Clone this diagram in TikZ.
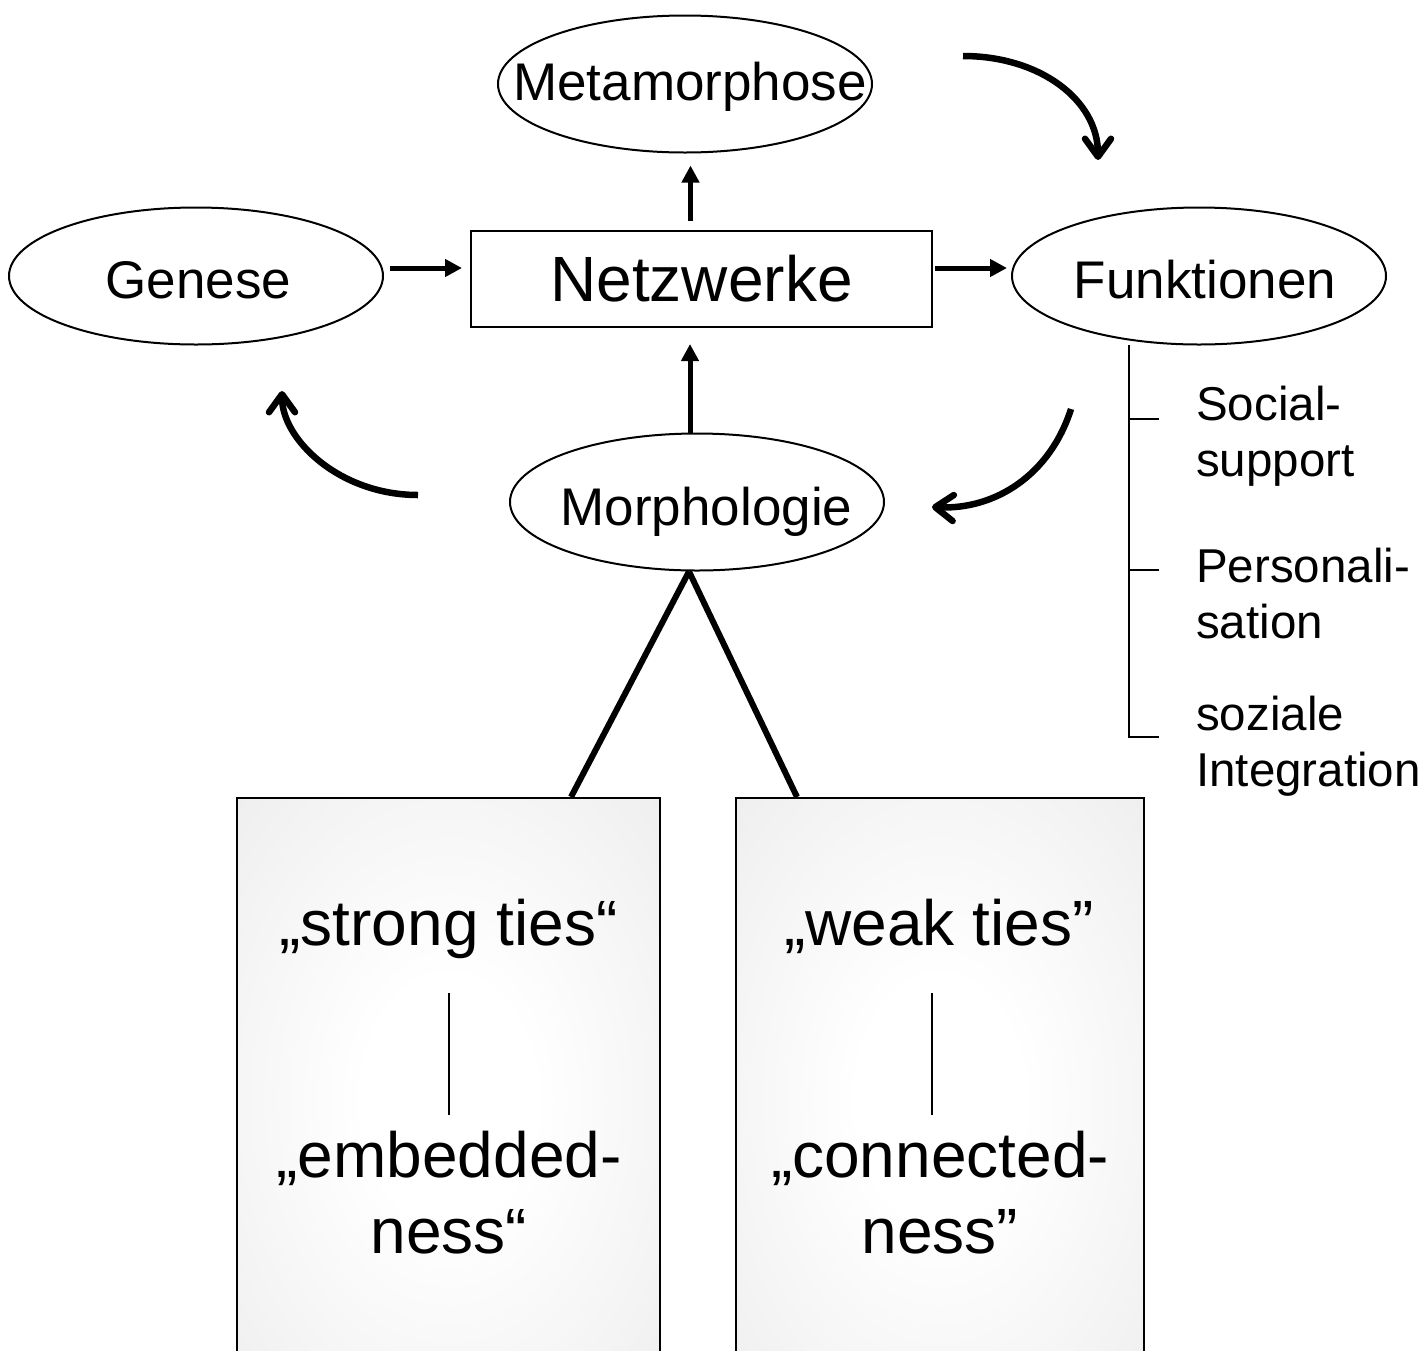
\documentclass[tikz,border=0pt]{standalone}
\usepackage{fontspec}
\setmainfont{Liberation Sans}
\usetikzlibrary{arrows.meta,shapes.geometric}
\pgfdeclareradialshading{boxshade}{\pgfpoint{0bp}{0bp}}{color(0bp)=(white); color(10bp)=(white); color(50bp)=(black!10)}
\begin{document}
\begin{tikzpicture}[x=1pt,y=-1pt,
  ell/.style={draw, ellipse, line width=2pt, minimum width=374pt, minimum height=137pt, inner sep=0pt},
  lbl/.style={font=\fontsize{53}{63}\selectfont, inner sep=0pt, anchor=base},
  big/.style={font=\fontsize{64}{76}\selectfont, inner sep=0pt, anchor=base, align=center},
  side/.style={font=\fontsize{47.5}{56}\selectfont, inner sep=0pt, anchor=base west, align=left},
  arr/.style={line width=5pt, -{Triangle[length=17pt,width=17pt]}},
  curv/.style={line width=6.5pt, -{Straight Barb[length=18pt,width=26pt,round]}},
  tiesbox/.style={draw, line width=2pt, shade, shading=boxshade, minimum width=423pt, minimum height=603pt, inner sep=0pt, anchor=north},
  thinline/.style={line width=2pt},
  morphline/.style={line width=6pt},
]
\path[use as bounding box] (0,0) rectangle (1421,1350);
\clip (0,0) rectangle (1421,1350);

% ellipses and main box
\node[ell] (meta) at (685,84) {};
\node[lbl] (metat) at (690,100) {Metamorphose};
\node[ell] (gen) at (196,276) {};
\node[lbl] (gent) at (198.5,298) {Genese};
\node[ell] (funk) at (1199,276) {};
\node[lbl] (funkt) at (1205,298) {Funktionen};
\node[draw, line width=2pt, minimum width=461pt, minimum height=96pt, inner sep=0pt,
      font=\fontsize{64}{76}\selectfont] (netz) at (701.5,279) {Netzwerke};
\node[ell] (morph) at (697,502) {};
\node[lbl] (morpht) at (706.5,525) {Morphologie};

% straight arrows
\coordinate (row) at (0,268);
\draw[arr, shorten <=6pt, shorten >=8pt] (gen.east |- row) -- (netz.west |- row);
\draw[arr, shorten <=2pt, shorten >=4pt] (netz.east |- row) -- (funk.west |- row);
\draw[arr, shorten <=9pt, shorten >=12pt] ([xshift=-11pt]netz.north) -- ([xshift=-11pt]netz.north |- meta.south);
\draw[arr, shorten >=16pt] ([xshift=-7pt]morph.north) -- ([xshift=-7pt]morph.north |- netz.south);

% curved arrows
\coordinate (c1s) at (963,56);   \coordinate (c1e) at (1098,160);
\coordinate (c2s) at (418,495);  \coordinate (c2e) at (282,391);
\coordinate (c3s) at (1071,409); \coordinate (c3e) at (932,507);
\draw[curv] (c1s) .. controls (1040,56) and (1098,100) .. (c1e);
\draw[curv] (c2s) .. controls (340,495) and (282,440) .. (c2e);
\draw[curv] (c3s) .. controls (1050,475) and (995,510) .. (c3e);

% function list (base anchor = last line)
\coordinate (b0) at (1129,345);
\coordinate (b1) at (1129,419);
\coordinate (b2) at (1129,570);
\coordinate (b3) at (1129,737);
\draw[thinline] (b0) -- (b3) -- ++(30,0);
\draw[thinline] (b1) -- ++(30,0);
\draw[thinline] (b2) -- ++(30,0);
\node[side] (f1) at (1196,476) {Social-\\support};
\node[side] (f2) at (1196,638) {Personali-\\sation};
\node[side] (f3) at (1196,786) {soziale\\Integration};

% ties boxes
\node[tiesbox] (strong) at (448.5,797) {};
\node[tiesbox, minimum width=408pt] (weak) at (940,797) {};
\draw[morphline] ([xshift=-8pt]morph.south) -- ([xshift=122.5pt]strong.north);
\draw[morphline] ([xshift=-8pt]morph.south) -- ([xshift=-143pt]weak.north);

\node[big] (s1) at (448.5,945) {„strong ties“};
\node[big] (s2) at (449,1253) {„embedded-\\ness“};
\draw[thinline] (449,993) -- (449,1115);
\node[big] (w1) at (939,945) {„weak ties”};
\node[big] (w2) at (940,1253) {„connected-\\ness”};
\draw[thinline] (932,993) -- (932,1115);
\end{tikzpicture}
\end{document}
